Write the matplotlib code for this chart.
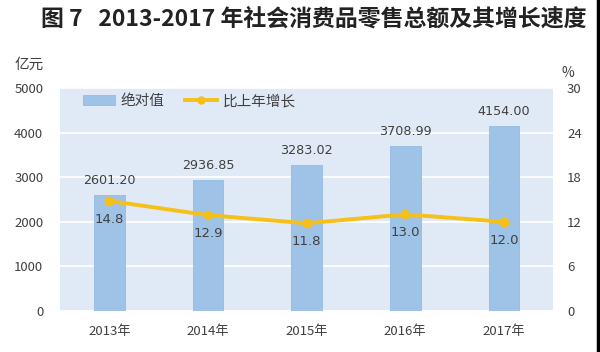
import matplotlib
matplotlib.use("Agg")
import matplotlib.pyplot as plt
from matplotlib.lines import Line2D

plt.rcParams["font.family"] = ["Noto Sans CJK SC", "DejaVu Sans"]

years = ["2013年", "2014年", "2015年", "2016年", "2017年"]
totals = [2601.20, 2936.85, 3283.02, 3708.99, 4154.00]
growth = [14.8, 12.9, 11.8, 13.0, 12.0]
left_ticks = [0, 1000, 2000, 3000, 4000, 5000]
right_ticks = [0, 6, 12, 18, 24, 30]

bar_color = "#9ec3e6"
line_color = "#f5c018"
text_color = "#404040"

fig = plt.figure(figsize=(6, 3.52), dpi=100)
ax = fig.add_axes([0.1, 0.1165, 0.822, 0.6335])
ax.set_facecolor("#dfeaf6")

x = list(range(len(years)))
bars = ax.bar(x, totals, width=0.31, color=bar_color, edgecolor="#93bbe2",
              linewidth=0.6, zorder=2, label="绝对值")
ax.set_xlim(-0.5, 4.5)
ax.set_ylim(0, 5000)
ax.set_yticks(left_ticks)
ax.yaxis.grid(True, color="white", linewidth=1.2, zorder=0)
ax.set_axisbelow(True)
ax.set_xticks(x)
ax.set_xticklabels(years)
for s in ax.spines.values():
    s.set_visible(False)
ax.tick_params(length=0, labelsize=9.5, colors=text_color, pad=10)
ax.tick_params(axis="y", pad=12)

for xi, v in zip(x, totals):
    ax.text(xi, v + 180, f"{v:.2f}", ha="center", va="bottom",
            fontsize=9.2, color=text_color, family="DejaVu Sans", zorder=5)

ax2 = ax.twinx()
ax2.plot(x, growth, color=line_color, linewidth=2.8, marker="o",
         markersize=6, zorder=4, label="比上年增长")
ax2.set_ylim(0, 30)
ax2.set_yticks(right_ticks)
for s in ax2.spines.values():
    s.set_visible(False)
ax2.tick_params(length=0, labelsize=9.5, colors=text_color, pad=10)
for xi, v in zip(x, growth):
    ax2.text(xi, v - 1.6, f"{v:.1f}", ha="center", va="top",
             fontsize=9.5, color=text_color, family="DejaVu Sans")

handles = [bars, Line2D([], [], color=line_color, linewidth=2.8, marker="o",
                        markersize=5)]
ax.legend(handles, ["绝对值", "比上年增长"], loc="upper left",
          bbox_to_anchor=(0.02, 1.03), ncol=2, frameon=False, fontsize=10.5,
          handlelength=2.2, handletextpad=0.4, columnspacing=1.4,
          labelcolor=text_color)

fig.text(0.025, 0.805, "亿元", fontsize=10.5, color=text_color)
fig.text(0.935, 0.78, "%", fontsize=10, color=text_color)
fig.text(0.523, 0.945, "图 7   2013-2017 年社会消费品零售总额及其增长速度",
         ha="center", va="center", fontsize=16.5, fontweight="bold", color="#222222")
fig.add_artist(Line2D([0.997, 0.997], [0, 1], color="black", linewidth=2.5,
                      transform=fig.transFigure))

fig.savefig("out.png", dpi=100)
